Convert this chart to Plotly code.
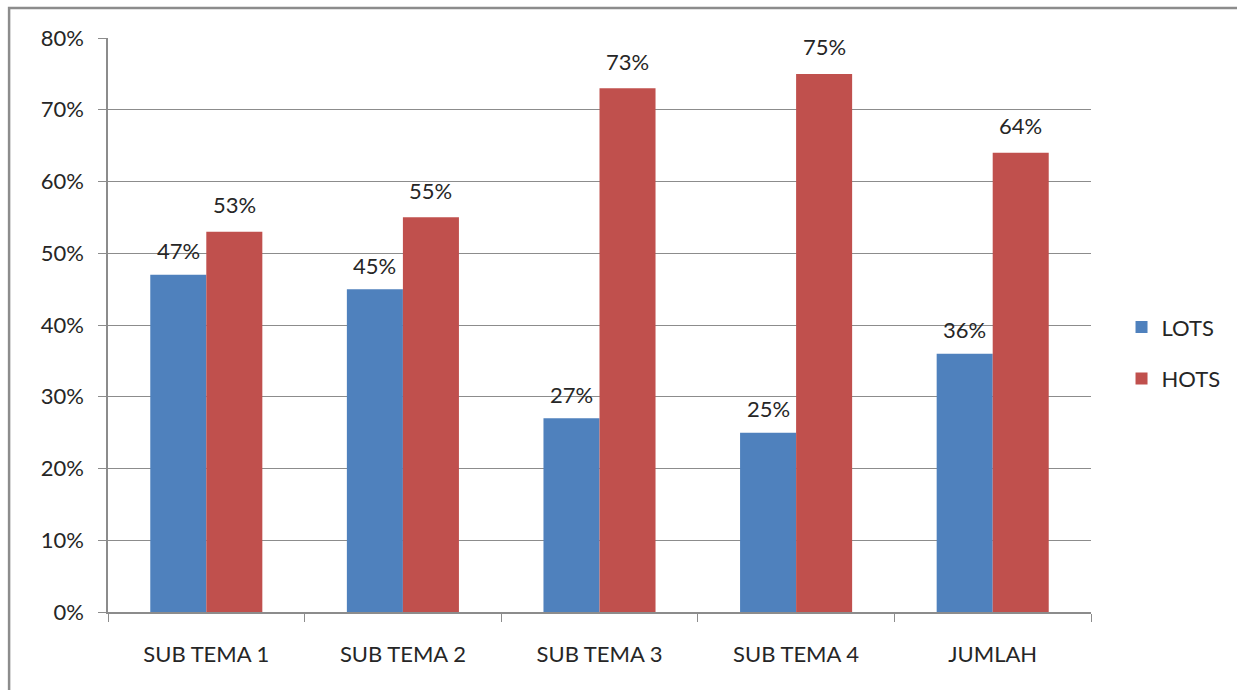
import plotly.graph_objects as go

categories = ["SUB TEMA 1", "SUB TEMA 2", "SUB TEMA 3", "SUB TEMA 4", "JUMLAH"]
lots = [0.47, 0.45, 0.27, 0.25, 0.36]
hots = [0.53, 0.55, 0.73, 0.75, 0.64]
lots_labels = ["47%", "45%", "27%", "25%", "36%"]
hots_labels = ["53%", "55%", "73%", "75%", "64%"]
ytick_vals = [0, 0.1, 0.2, 0.3, 0.4, 0.5, 0.6, 0.7, 0.8]
ytick_text = ["0%", "10%", "20%", "30%", "40%", "50%", "60%", "70%", "80%"]

BLUE = "#4F81BD"
RED = "#C0504D"
FONT = "Lato, 'Open Sans', sans-serif"
TXT = "#262626"
FS = 22

W, H = 1237, 690
L, R, T, B = 108, 145, 38, 78
pw = W - L - R

fig = go.Figure()
fig.add_trace(go.Bar(x=categories, y=lots, name="LOTS", marker_color=BLUE,
                     marker_line_width=0, legendgroup="a"))
fig.add_trace(go.Bar(x=categories, y=hots, name="HOTS", marker_color=RED,
                     marker_line_width=0, legendgroup="b"))

for i, c in enumerate(categories):
    fig.add_annotation(x=c, y=lots[i], text=lots_labels[i], showarrow=False,
                       xshift=-28, yshift=24, font=dict(size=FS, color=TXT, family=FONT))
    fig.add_annotation(x=c, y=hots[i], text=hots_labels[i], showarrow=False,
                       xshift=28, yshift=27, font=dict(size=FS, color=TXT, family=FONT))

# outer chart frame (only top/left visible in the reference)
fig.add_shape(type="rect", xref="paper", yref="paper",
              x0=(9 - L) / pw, x1=(W + 20 - L) / pw,
              y0=-(H + 20 - (H - B)) / (H - T - B), y1=(H - 8 - B) / (H - T - B),
              line=dict(color="#8C8C8C", width=2.5), fillcolor="rgba(0,0,0,0)", layer="below")

fig.update_layout(
    width=W, height=H,
    margin=dict(l=L, r=R, t=T, b=B, pad=0),
    barmode="group", bargap=0.43, bargroupgap=0,
    plot_bgcolor="white", paper_bgcolor="white",
    font=dict(family=FONT, size=FS, color=TXT),
    showlegend=True,
    legend=dict(x=1.03, y=0.451, xanchor="left", yanchor="middle",
                font=dict(size=FS, color=TXT, family=FONT),
                tracegroupgap=20, itemwidth=30, bgcolor="rgba(0,0,0,0)"),
    xaxis=dict(type="category", tickson="boundaries", ticks="outside", ticklen=8,
               tickcolor="#8C8C8C", showline=True, linecolor="#8C8C8C", linewidth=1.5,
               showgrid=False, tickfont=dict(size=FS, color=TXT, family=FONT),
               ticklabelstandoff=22),
    yaxis=dict(range=[0, 0.8], tickvals=ytick_vals, ticktext=ytick_text,
               ticks="outside", ticklen=8, tickcolor="#8C8C8C",
               showline=True, linecolor="#8C8C8C", linewidth=1.5,
               showgrid=True, gridcolor="#8C8C8C", gridwidth=1,
               zeroline=False, tickfont=dict(size=FS, color=TXT, family=FONT),
               ticklabelstandoff=10),
)

fig.write_html("out.html")
